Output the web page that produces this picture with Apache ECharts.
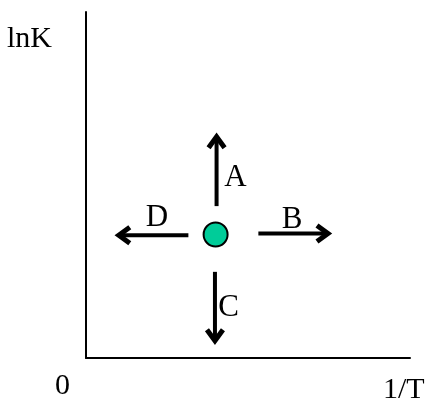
<!DOCTYPE html>
<html>
<head>
<meta charset="utf-8">
<script src="https://cdn.jsdelivr.net/npm/echarts@6/dist/echarts.min.js"></script>
<style>html,body{margin:0;padding:0;background:#fff;}#c{width:428px;height:406px;}</style>
</head>
<body>
<div id="c"></div>
<script>
// Equilibrium point on the lnK vs 1/T diagram
var point = [4.0, 3.57];
// Arrows: [x1, y1, x2, y2] (tail -> tip)
var arrowA = [4.03, 4.39, 4.03, 6.45];
var arrowB = [5.32, 3.60, 7.53, 3.60];
var arrowC = [3.98, 2.49, 3.98, 0.44];
var arrowD = [3.16, 3.55, 0.95, 3.55];
var arrowNames = ['A', 'B', 'C', 'D'];
// Label anchor positions for arrows
var labelPos = [[4.61, 5.20], [6.36, 4.00], [4.40, 1.45], [2.19, 4.05]];
var yAxisTitle = 'lnK';
var xAxisTitle = '1/T';
var originLabel = '0';

var FONT = '"Liberation Serif", "Times New Roman", serif';
var chart = echarts.init(document.getElementById('c'), null, {renderer: 'canvas'});

var arrows = [arrowA, arrowB, arrowC, arrowD];
var arrowData = arrows.map(function (a, i) {
  return a.concat([labelPos[i][0], labelPos[i][1], i]);
});

chart.setOption({
  animation: false,
  backgroundColor: '#fff',
  grid: {left: 86, right: 18, top: 12, bottom: 48},
  xAxis: {
    type: 'value', min: 0, max: 10,
    axisLine: {show: true, lineStyle: {color: '#000', width: 2}},
    axisTick: {show: false}, axisLabel: {show: false}, splitLine: {show: false}
  },
  yAxis: {
    type: 'value', min: 0, max: 10,
    axisLine: {show: true, lineStyle: {color: '#000', width: 2}},
    axisTick: {show: false}, axisLabel: {show: false}, splitLine: {show: false}
  },
  graphic: [
    {type: 'text', left: 7, top: 24, style: {text: yAxisTitle, font: '30px ' + FONT, fill: '#000'}},
    {type: 'text', left: 55, top: 371, style: {text: originLabel, font: '30px ' + FONT, fill: '#000'}},
    {type: 'text', left: 383, top: 375, style: {text: xAxisTitle, font: '30px ' + FONT, fill: '#000'}}
  ],
  series: [
    {
      type: 'custom',
      coordinateSystem: 'cartesian2d',
      data: arrowData,
      encode: {x: [0, 2], y: [1, 3]},
      renderItem: function (params, api) {
        var p1 = api.coord([api.value(0), api.value(1)]);
        var p2 = api.coord([api.value(2), api.value(3)]);
        var lp = api.coord([api.value(4), api.value(5)]);
        var idx = api.value(6);
        var dx = p2[0] - p1[0], dy = p2[1] - p1[1];
        var len = Math.sqrt(dx * dx + dy * dy);
        var ux = dx / len, uy = dy / len;
        var hl = 11, hw = 8;
        var tip = [p2[0] - ux * 2, p2[1] - uy * 2];
        var w1 = [tip[0] - ux * hl - uy * hw, tip[1] - uy * hl + ux * hw];
        var w2 = [tip[0] - ux * hl + uy * hw, tip[1] - uy * hl - ux * hw];
        return {
          type: 'group',
          children: [
            {type: 'line', shape: {x1: p1[0], y1: p1[1], x2: tip[0], y2: tip[1]},
              style: {stroke: '#000', lineWidth: 4}},
            {type: 'polyline', shape: {points: [w1, tip, w2]},
              style: {stroke: '#000', lineWidth: 5, fill: null, lineJoin: 'miter', lineCap: 'butt'}},
            {type: 'text', x: lp[0], y: lp[1],
              style: {text: arrowNames[idx], font: '31px ' + FONT, fill: '#000', align: 'center', verticalAlign: 'middle'}}
          ]
        };
      }
    },
    {
      type: 'scatter',
      data: [point],
      symbolSize: 24,
      itemStyle: {color: '#00CC99', opacity: 1, borderColor: '#000', borderWidth: 2}
    }
  ]
});
</script>
</body>
</html>
